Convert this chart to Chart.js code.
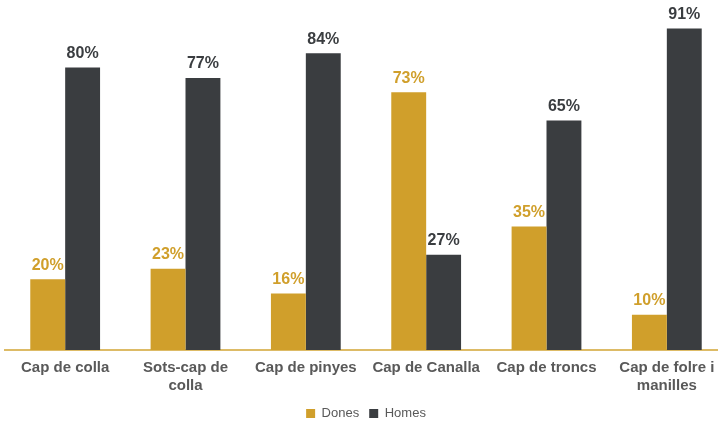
<!DOCTYPE html>
<html>
<head>
<meta charset="utf-8">
<script src="https://cdn.jsdelivr.net/npm/chart.js@4.4.1/dist/chart.umd.min.js"></script>
<style>
  html, body { margin: 0; padding: 0; background: #fff; overflow: hidden; }
  #wrap { position: relative; width: 732px; height: 423px; margin-left: 0; }
</style>
</head>
<body>
<div id="wrap"><canvas id="chart"></canvas></div>
<script>
const categories = [
  'Cap de colla',
  ['Sots-cap de', 'colla'],
  'Cap de pinyes',
  'Cap de Canalla',
  'Cap de troncs',
  ['Cap de folre i', 'manilles']
];
const dones = [20, 23, 16, 73, 35, 10];
const homes = [80, 77, 84, 27, 65, 91];

const GOLD = '#D09F2B';
const DARK = '#3A3D40';

// etiquetes de valor damunt de cada barra
const valueLabels = {
  id: 'valueLabels',
  afterDatasetsDraw(chart) {
    const ctx = chart.ctx;
    ctx.save();
    ctx.font = 'bold 16px "Liberation Sans", Arial, sans-serif';
    ctx.textAlign = 'center';
    ctx.textBaseline = 'bottom';
    chart.data.datasets.forEach((ds, i) => {
      chart.getDatasetMeta(i).data.forEach((bar, j) => {
        ctx.fillStyle = ds.labelColor;
        ctx.fillText(ds.data[j] + '%', bar.x, bar.y - 6);
      });
    });
    ctx.restore();
  }
};

new Chart(document.getElementById('chart'), {
  type: 'bar',
  data: {
    labels: categories,
    datasets: [
      { label: 'Dones', data: dones, backgroundColor: GOLD, labelColor: GOLD },
      { label: 'Homes', data: homes, backgroundColor: DARK, labelColor: DARK }
    ]
  },
  options: {
    responsive: true,
    maintainAspectRatio: false,
    animation: false,
    layout: { padding: { left: 5, right: 5, top: 0, bottom: -7 } },
    datasets: { bar: { categoryPercentage: 0.58, barPercentage: 1.0 } },
    scales: {
      x: {
        grid: { display: false, drawTicks: false },
        border: { color: '#DDBB66', width: 2 },
        afterFit(scale) { scale.height -= 7; },
        ticks: {
          color: '#595959',
          padding: 9,
          maxRotation: 0,
          autoSkip: false,
          font: { family: '"Liberation Sans", Arial, sans-serif', size: 15, weight: 'bold', lineHeight: 1.2 }
        }
      },
      y: {
        display: false,
        min: 0,
        max: 99.1
      }
    },
    plugins: {
      legend: {
        position: 'bottom',
        labels: {
          boxWidth: 9,
          boxHeight: 9,
          padding: 10,
          color: '#595959',
          font: { family: '"Liberation Sans", Arial, sans-serif', size: 13 }
        }
      },
      tooltip: { enabled: false }
    }
  },
  plugins: [valueLabels]
});
</script>
</body>
</html>
